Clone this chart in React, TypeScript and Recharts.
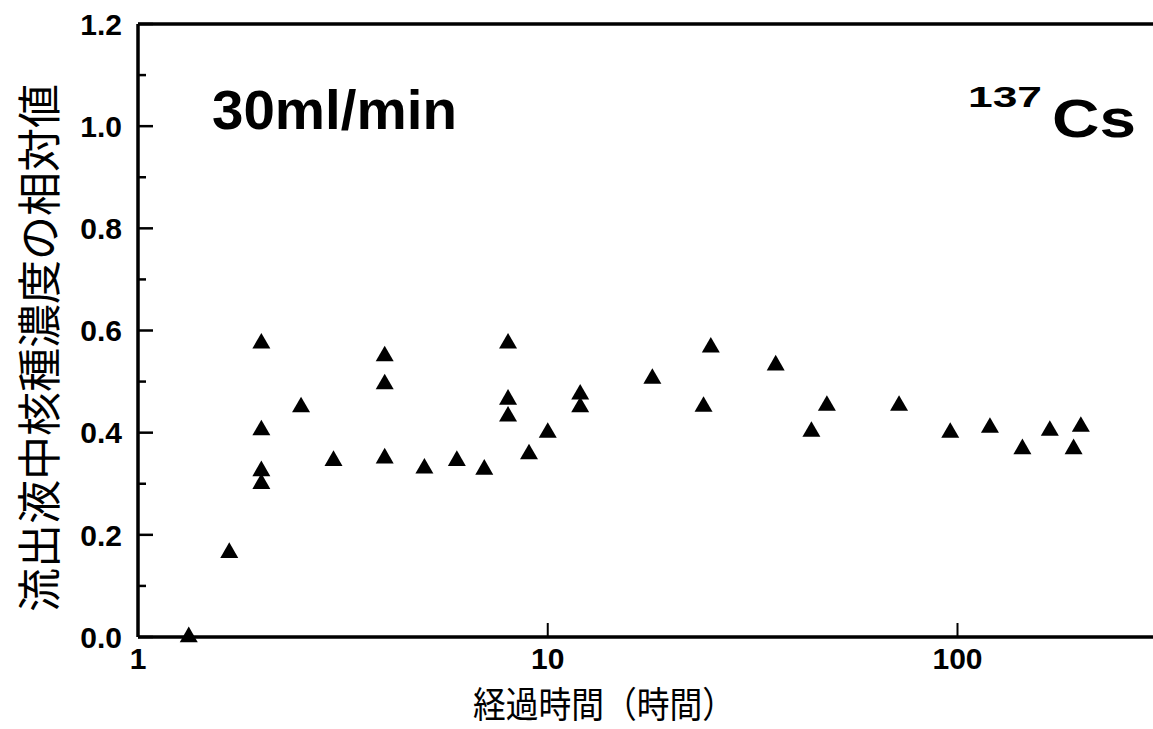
import { ScatterChart, Scatter, XAxis, YAxis, ReferenceLine, Customized } from "recharts";

// elapsed time (h) and relative nuclide concentration in effluent, 137Cs @ 30ml/min
const hours = [
  1.33, 1.67, 2, 2, 2, 2, 2.5, 3, 4, 4, 4, 5, 6, 7, 8, 8, 8, 9, 10, 12, 12,
  18, 24, 25, 36, 44, 48, 72, 96, 120, 144, 168, 192, 200,
];
const relConc = [
  0.0, 0.165, 0.575, 0.405, 0.325, 0.3, 0.45, 0.345, 0.55, 0.495, 0.35, 0.33,
  0.345, 0.328, 0.575, 0.465, 0.432, 0.358, 0.4, 0.475, 0.45,
  0.506, 0.451, 0.567, 0.532, 0.402, 0.453, 0.453, 0.4, 0.41, 0.368, 0.404,
  0.368, 0.412,
];
const xTicks = [1, 10, 100];
const yTicks = [0, 0.1, 0.2, 0.3, 0.4, 0.5, 0.6, 0.7, 0.8, 0.9, 1.0, 1.1, 1.2];

const data = hours.map((h, i) => ({ h, v: relConc[i] }));

const NUM_FONT = "'Liberation Sans', Arial, Helvetica, sans-serif";
const JP_FONT = "'Noto Sans CJK JP', 'Noto Sans', sans-serif";
const Y_MARGIN = 16;
const X_MARGIN = 13;

// filled equilateral triangle, centred on its centroid
function Tri(props: any) {
  const { cx, cy } = props;
  const s = 18;
  const h = (s * Math.sqrt(3)) / 2;
  return (
    <path
      d={`M${cx},${cy - (2 * h) / 3} L${cx + s / 2},${cy + h / 3} L${cx - s / 2},${cy + h / 3} Z`}
      fill="#000"
    />
  );
}

function YTick(props: any) {
  const { x, y, payload } = props;
  const v: number = payload.value;
  const major = Math.round(v * 10) % 2 === 0;
  const axisX = x + Y_MARGIN;
  return (
    <g>
      <line x1={axisX} x2={axisX + (major ? 15 : 8)} y1={y} y2={y} stroke="#000" strokeWidth={2.5} />
      {major && (
        <text x={x} y={y} dy="0.36em" textAnchor="end" fontFamily={NUM_FONT} fontWeight="bold" fontSize={30} fill="#000">
          {v.toFixed(1)}
        </text>
      )}
    </g>
  );
}

function XTick(props: any) {
  const { x, y, payload } = props;
  const axisY = y - X_MARGIN;
  return (
    <g>
      <line x1={x} x2={x} y1={axisY} y2={axisY - 14} stroke="#000" strokeWidth={2} />
      <text x={x} y={y + 19} textAnchor="middle" fontFamily={NUM_FONT} fontWeight="bold" fontSize={30} fill="#000">
        {payload.value}
      </text>
    </g>
  );
}

function Labels() {
  return (
    <g>
      <text x={212} y={129} fontFamily={NUM_FONT} fontWeight="bold" fontSize={55} textLength={245} lengthAdjust="spacingAndGlyphs" fill="#000">
        30ml/min
      </text>
      <text x={968} y={107} fontFamily={NUM_FONT} fontWeight="bold" fontSize={29} textLength={74} lengthAdjust="spacingAndGlyphs" fill="#000">
        137
      </text>
      <text x={1052} y={137} fontFamily={NUM_FONT} fontWeight="bold" fontSize={53} textLength={84} lengthAdjust="spacingAndGlyphs" fill="#000">
        Cs
      </text>
      <text
        x={0}
        y={0}
        transform="translate(56, 348) rotate(-90)"
        textAnchor="middle"
        fontFamily={JP_FONT}
        fontSize={44}
        fill="#000"
      >
        流出液中核種濃度の相対値
      </text>
      <text x={473} y={718} fontFamily={JP_FONT} fontSize={36} textLength={262} lengthAdjust="spacingAndGlyphs" fill="#000">
        経過時間（時間）
      </text>
    </g>
  );
}

export default function App() {
  return (
    <div style={{ position: "absolute", left: 0, top: 0, width: 1153, height: 729, background: "#fff", overflow: "hidden" }}>
      <ScatterChart width={1153} height={729} margin={{ top: 24, right: 0, bottom: 32, left: 0 }}>
        <XAxis
          type="number"
          dataKey="h"
          scale="log"
          domain={[1, 300]}
          ticks={xTicks}
          allowDataOverflow
          height={60}
          axisLine={{ stroke: "#000", strokeWidth: 3.5 }}
          tickLine={false}
          tickSize={0}
          tickMargin={X_MARGIN}
          tick={<XTick />}
          interval={0}
        />
        <YAxis
          type="number"
          dataKey="v"
          domain={[0, 1.2]}
          ticks={yTicks}
          width={138}
          axisLine={{ stroke: "#000", strokeWidth: 3.5 }}
          tickLine={false}
          tickSize={0}
          tickMargin={Y_MARGIN}
          tick={<YTick />}
          interval={0}
        />
        <ReferenceLine y={1.2} stroke="#000" strokeWidth={3.5} />
        <Scatter data={data} shape={<Tri />} fill="#000" isAnimationActive={false} />
        <Customized component={Labels} />
      </ScatterChart>
    </div>
  );
}
